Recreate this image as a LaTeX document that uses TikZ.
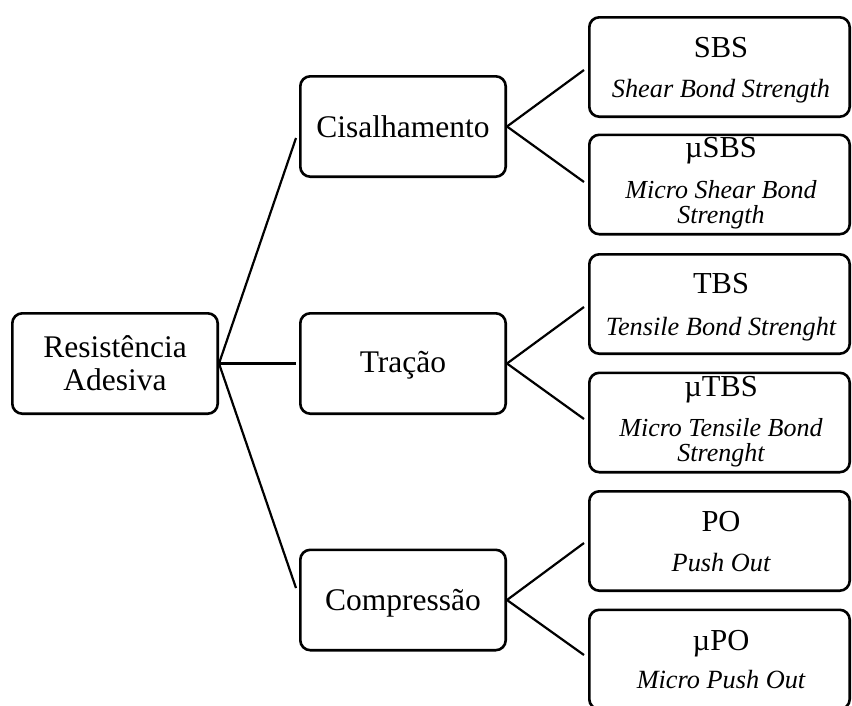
\documentclass[tikz,border=0pt]{standalone}
\usepackage{fontspec}
\setmainfont{Liberation Serif}
\begin{document}
\begin{tikzpicture}[x=1pt,y=-1pt,
  box/.style={draw=black, line width=2.6pt, rounded corners=10pt, inner sep=0pt},
  rootbox/.style={box, minimum width=205.4pt, minimum height=100.4pt},
  midbox/.style={box, minimum width=205.4pt, minimum height=100.4pt},
  leafbox/.style={box, minimum width=260.4pt, minimum height=99.4pt},
  big/.style={anchor=base, inner sep=0pt, font=\fontsize{31.5}{33}\selectfont},
  ttl/.style={anchor=base, inner sep=0pt, font=\fontsize{30.5}{32}\selectfont},
  subt/.style={anchor=base, inner sep=0pt, font=\fontsize{26.3}{28}\selectfont\itshape},
  subtwo/.style={anchor=base, inner sep=0pt, align=center, font=\fontsize{26}{24.5}\selectfont\itshape},
  link/.style={line width=2.2pt}]

\useasboundingbox (0,0) rectangle (852,705);

% boxes
\node[rootbox] (root) at (115,363.5) {};
\node[midbox] (cis) at (403,126.5) {};
\node[midbox] (tra) at (403,363.5) {};
\node[midbox] (com) at (403,600) {};
\node[leafbox] (sbs) at (719.5,67) {};
\node[leafbox] (usbs) at (719.5,184.5) {};
\node[leafbox] (tbs) at (719.5,304) {};
\node[leafbox] (utbs) at (719.5,422.5) {};
\node[leafbox] (po) at (719.5,541) {};
\node[leafbox] (upo) at (719.5,659.5) {};

% texts
\node[big] (t1) at (115,357) {Resistência};
\node[big] (t2) at (115,390) {Adesiva};
\node[big] (t3) at (403,137) {Cisalhamento};
\node[big] (t4) at (403,372) {Tração};
\node[big] (t5) at (403,610) {Compressão};

\node[ttl] (s1) at (721,57.5) {SBS};
\node[subt] (s2) at (721,97) {Shear Bond Strength};
\node[ttl] (s3) at (721,157.5) {µSBS};
\node[subtwo] (s4) at (721,223) {Micro Shear Bond\\Strength};
\node[ttl] (s6) at (721,293.5) {TBS};
\node[subt] (s7) at (721,335) {Tensile Bond Strenght};
\node[ttl] (s8) at (721,396.5) {µTBS};
\node[subtwo] (s9) at (721,461) {Micro Tensile Bond\\Strenght};
\node[ttl] (s11) at (721,531) {PO};
\node[subt] (s12) at (721,571) {Push Out};
\node[ttl] (s13) at (721,650) {µPO};
\node[subt] (s14) at (721,688) {Micro Push Out};

% connector ends
\coordinate (cisin) at (296,138);
\coordinate (train) at (296,363.5);
\coordinate (comin) at (296,588);
\coordinate (sbsin) at (584,70);
\coordinate (usbsin) at (584,182);
\coordinate (tbsin) at (584,307);
\coordinate (utbsin) at (584,419);
\coordinate (poin) at (584,543);
\coordinate (upoin) at (584,655);

% connectors
\draw[link] (root.east) -- (cisin);
\draw[link] (root.east) -- (train);
\draw[link] (root.east) -- (comin);
\draw[link] (cis.east) -- (sbsin);
\draw[link] (cis.east) -- (usbsin);
\draw[link] (tra.east) -- (tbsin);
\draw[link] (tra.east) -- (utbsin);
\draw[link] (com.east) -- (poin);
\draw[link] (com.east) -- (upoin);
\end{tikzpicture}
\end{document}
